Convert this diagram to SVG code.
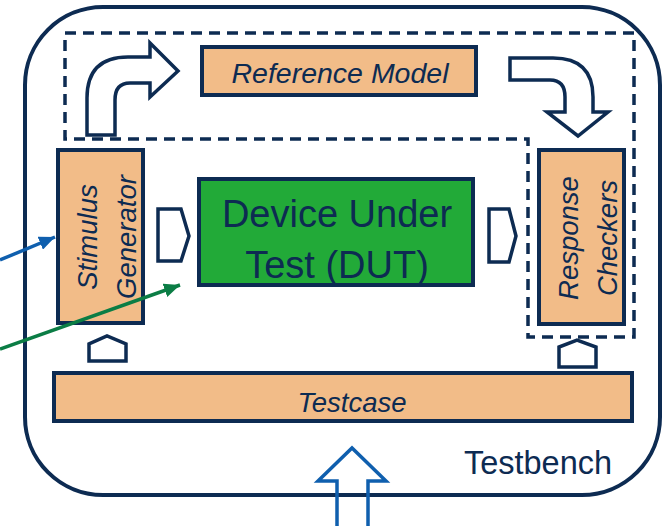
<svg xmlns="http://www.w3.org/2000/svg" width="670" height="526" viewBox="0 0 670 526">
<style>
.box{fill:#F2BC88;stroke:#0D2B52;stroke-width:4}
.dut{fill:#22AA38;stroke:#0D2B52;stroke-width:4}
.lbl{font-family:"Liberation Sans",Arial,sans-serif;font-style:italic;font-size:27.5px;fill:#0D2B52;text-anchor:middle}
.big{font-family:"Liberation Sans",Arial,sans-serif;font-size:38px;fill:#0D2B52;text-anchor:middle}
.port{fill:#fff;stroke:#0D2B52;stroke-width:3.5;stroke-linejoin:miter}
.bend{fill:#fff;stroke:#0D2B52;stroke-width:3.5}
</style>
<defs>
<marker id="ahBlue" markerUnits="userSpaceOnUse" markerWidth="18" markerHeight="14" refX="16" refY="7" orient="auto"><path d="M0,0 L16,7 L0,14 Z" fill="#0F5FAE"/></marker>
<marker id="ahGreen" markerUnits="userSpaceOnUse" markerWidth="18" markerHeight="14" refX="16" refY="7" orient="auto"><path d="M0,0 L16,7 L0,14 Z" fill="#0B7D45"/></marker>
</defs>
<g id="testbench">
<rect x="25" y="7" width="635" height="488" rx="78" ry="78" fill="#fff" stroke="#0D2B52" stroke-width="4"/>
<text x="538" y="474" font-family="'Liberation Sans',Arial,sans-serif" font-size="32.5" fill="#0D2B52" text-anchor="middle">Testbench</text>
</g>
<g id="scoreboard-region">
<path d="M65,33 H634 V337 H528 V139 H65 Z" fill="none" stroke="#0D2B52" stroke-width="3.5" stroke-dasharray="11 7"/>
</g>
<g id="reference-model">
<rect class="box" x="202" y="47" width="274" height="48"/>
<text class="lbl" x="340" y="83" style="font-size:28.5px">Reference Model</text>
</g>
<g id="stimulus-generator">
<rect class="box" x="58" y="150" width="85" height="173"/>
<text class="lbl" transform="translate(97,237) rotate(-90)">Stimulus</text>
<text class="lbl" transform="translate(136,237) rotate(-90)">Generator</text>
</g>
<g id="dut">
<rect class="dut" x="199" y="179" width="274" height="106"/>
<text class="big" x="337" y="227">Device Under</text>
<text class="big" x="337" y="278">Test (DUT)</text>
</g>
<g id="response-checkers">
<rect class="box" x="539" y="150" width="85" height="174"/>
<text class="lbl" transform="translate(578,238) rotate(-90)">Response</text>
<text class="lbl" transform="translate(617,238) rotate(-90)">Checkers</text>
</g>
<g id="testcase">
<rect class="box" x="54" y="373" width="578" height="48"/>
<text class="lbl" x="352" y="412">Testcase</text>
</g>
<g id="connectors">
<path class="bend" d="M87,135 L87,98 Q87,57 128,57 L150,57 L150,43 L178,71 L150,97 L150,83 L130,83 Q115,83 115,100 L115,135 Z"/>
<path class="bend" d="M510,58 L553,58 Q593,58 593,97 L593,112 L608,112 L578,136 L547,112 L565,112 L565,97 Q565,80 550,80 L510,80 Z"/>
<polygon class="port" points="158,209 181,209 189,236 181,261 158,261"/>
<polygon class="port" points="489,209 509,209 516,236 509,262 489,262"/>
<polygon class="port" points="89,361 89,344 107,336 126,344 126,361"/>
<polygon class="port" points="559,367 559,347 577,340 596,347 596,367"/>
<path d="M337,530 L337,481 L318,481 L352,448 L386,481 L368,481 L368,530" fill="none" stroke="#0F5FAE" stroke-width="3.5"/>
<line x1="0" y1="260" x2="55" y2="237" stroke="#0F5FAE" stroke-width="3.5" marker-end="url(#ahBlue)"/>
<line x1="0" y1="349" x2="180" y2="285" stroke="#0B7D45" stroke-width="3.5" marker-end="url(#ahGreen)"/>
</g>
</svg>
